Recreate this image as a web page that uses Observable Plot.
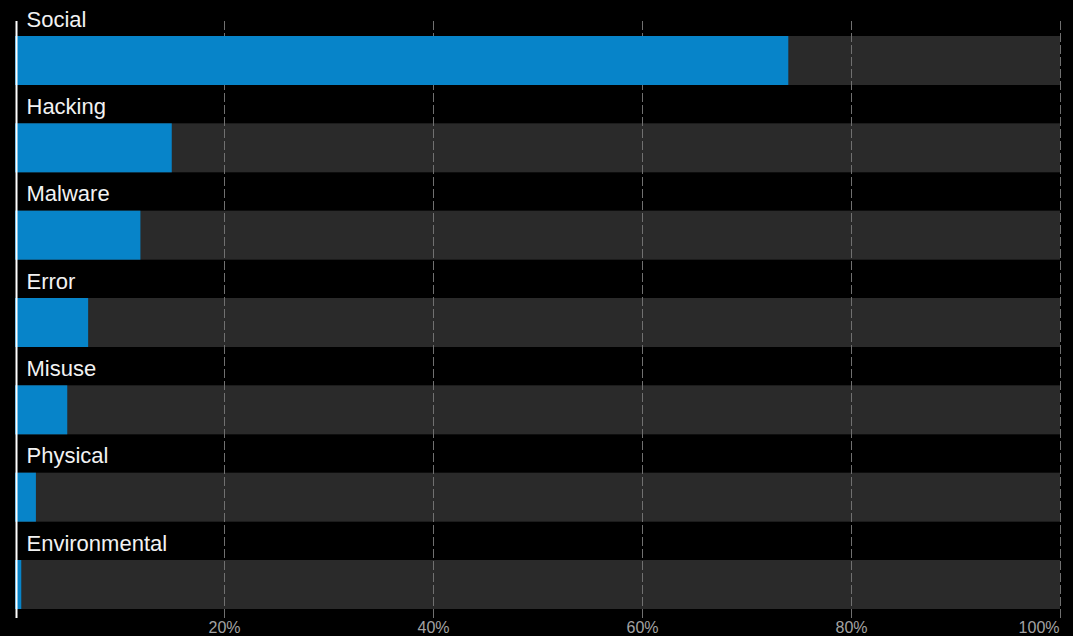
<!DOCTYPE html>
<html>
<head>
<meta charset="utf-8">
<script src="https://cdn.jsdelivr.net/npm/d3@7"></script>
<script src="https://cdn.jsdelivr.net/npm/@observablehq/plot@0.6"></script>
<style>
  html, body { margin: 0; padding: 0; background: #000; }
  #chart svg { display: block; }
</style>
</head>
<body>
<div id="chart"></div>
<script>
const categories = ["Social", "Hacking", "Malware", "Error", "Misuse", "Physical", "Environmental"];
const values = [74, 15, 12, 7, 5, 2, 0.6];
const ticks = [20, 40, 60, 80, 100];

const data = categories.map((c, i) => ({category: c, value: values[i]}));

const chart = Plot.plot({
  width: 1073,
  height: 636,
  marginLeft: 15,
  marginRight: 13,
  marginTop: 21,
  marginBottom: 18,
  style: {background: "#000", color: "#a3a3a3", fontFamily: "'Liberation Sans', Arial, sans-serif"},
  x: {domain: [0, 100]},
  y: {domain: categories, range: [36, 609], paddingInner: 0.439, paddingOuter: 0, round: false, axis: null},
  marks: [
    Plot.barX(data, {y: "category", x1: 0, x2: 100, fill: "#2a2a2a"}),
    Plot.ruleX(ticks, {stroke: "#707070", strokeDasharray: "9,3", strokeWidth: 1}),
    Plot.barX(data, {y: "category", x: "value", fill: "#0784c9"}),
    Plot.text(data, {y: "category", x: 0, text: "category", dx: 11, dy: -41.5, textAnchor: "start", lineAnchor: "middle", fontSize: 22, fill: "#f2f2f2"}),
    Plot.ruleX([0], {stroke: "#fff", strokeWidth: 2, dx: 1}),
    Plot.axisX(ticks.slice(0, 4), {tickSize: 0, tickPadding: 3, tickFormat: d => d + "%", fontSize: 16, label: null}),
    Plot.axisX([100], {tickSize: 0, tickPadding: 3, tickFormat: d => d + "%", fontSize: 16, textAnchor: "end", dx: -1, label: null})
  ]
});
document.getElementById("chart").appendChild(chart);
</script>
</body>
</html>
